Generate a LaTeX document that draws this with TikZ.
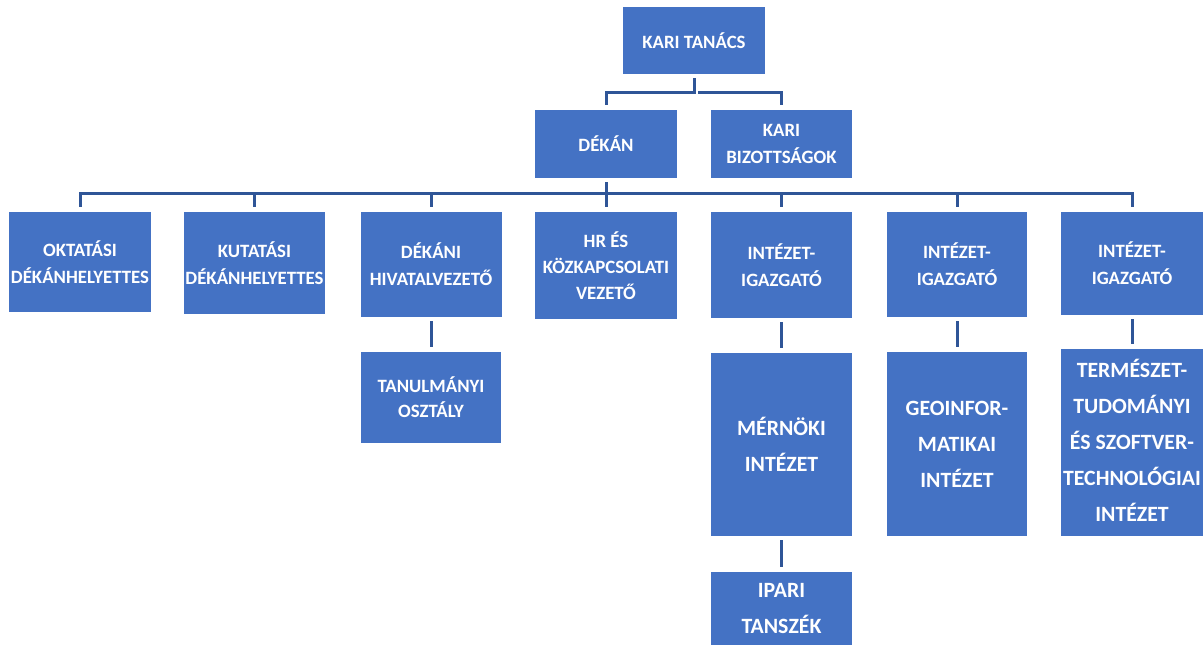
\documentclass[tikz,border=0pt]{standalone}
\usepackage{fontspec}
\setmainfont{Carlito}
\definecolor{boxblue}{RGB}{68,114,196}
\definecolor{lineblue}{RGB}{47,85,151}
\tikzset{
  box/.style={fill=boxblue, draw=none, inner sep=0pt, align=center, text=white,
    font=\bfseries\fontsize{18.8}{27}\selectfont},
  bigbox/.style={box, font=\bfseries\fontsize{21.8}{36}\selectfont},
  conn/.style={draw=lineblue, line width=3pt, shorten >=5pt, shorten <=4pt}
}
\begin{document}
\begin{tikzpicture}[x=1pt,y=-1pt]
\useasboundingbox (0,0) rectangle (1203,645);
% level 0-1
\node[box, minimum width=142, minimum height=67] (kt) at (694,40.5) {KARI TANÁCS};
\node[box, minimum width=142, minimum height=68] (dek) at (606,144) {DÉKÁN};
\node[box, minimum width=141, minimum height=68] (kb) at (781.5,144) {KARI\\BIZOTTSÁGOK};
% level 2
\node[box, minimum width=142, minimum height=100] (okt) at (80,262) {OKTATÁSI\\DÉKÁNHELYETTES};
\node[box, minimum width=141, minimum height=102] (kut) at (254.5,263) {KUTATÁSI\\DÉKÁNHELYETTES};
\node[box, minimum width=141, minimum height=105] (dh) at (431,264.5) {DÉKÁNI\\HIVATALVEZETŐ};
\node[box, minimum width=142, minimum height=107, font=\bfseries\fontsize{18.8}{26}\selectfont] (hr) at (606,265.5) {HR ÉS\\KÖZKAPCSOLATI\\VEZETŐ};
\node[box, minimum width=141, minimum height=106] (ig1) at (781.5,265) {INTÉZET-\\IGAZGATÓ};
\node[box, minimum width=140, minimum height=105] (ig2) at (957,264.5) {INTÉZET-\\IGAZGATÓ};
\node[box, minimum width=142, minimum height=103] (ig3) at (1132,263.5) {INTÉZET-\\IGAZGATÓ};
% level 3
\node[box, minimum width=140, minimum height=91, font=\bfseries\fontsize{18.8}{25}\selectfont] (tan) at (431,397.5) {TANULMÁNYI\\OSZTÁLY};
\node[bigbox, minimum width=141, minimum height=183] (mer) at (781.5,444.5) {MÉRNÖKI\\INTÉZET};
\node[bigbox, minimum width=140, minimum height=184] (geo) at (957,444) {GEOINFOR-\\MATIKAI\\INTÉZET};
\node[bigbox, minimum width=142, minimum height=187] (ter) at (1132,442.5) {\mbox{}\\[-22pt]TERMÉSZET-\\TUDOMÁNYI\\ÉS SZOFTVER-\\TECHNOLÓGIAI\\INTÉZET};
\node[bigbox, minimum width=141, minimum height=73] (ipa) at (781.5,608.5) {IPARI\\TANSZÉK};
% buses
\coordinate (b1) at (694,92);
\coordinate (bus) at (606,193);
% connectors
\draw[conn] (kt.south) -- (kt.south |- b1) -| (dek.north);
\draw[conn] (kt.south |- b1) -| (kb.north);
\draw[conn, shorten >=0pt] (dek.south) -- (bus);
\foreach \c in {okt,kut,dh,hr,ig1,ig2,ig3}{
  \draw[conn, shorten <=0pt] (bus) -| (\c.north);
}
\draw[conn] (dh.south) -- (tan.north);
\draw[conn] (ig1.south) -- (mer.north);
\draw[conn] (ig2.south) -- (geo.north);
\draw[conn] (ig3.south) -- (ter.north);
\draw[conn] (mer.south) -- (ipa.north);
\end{tikzpicture}
\end{document}
